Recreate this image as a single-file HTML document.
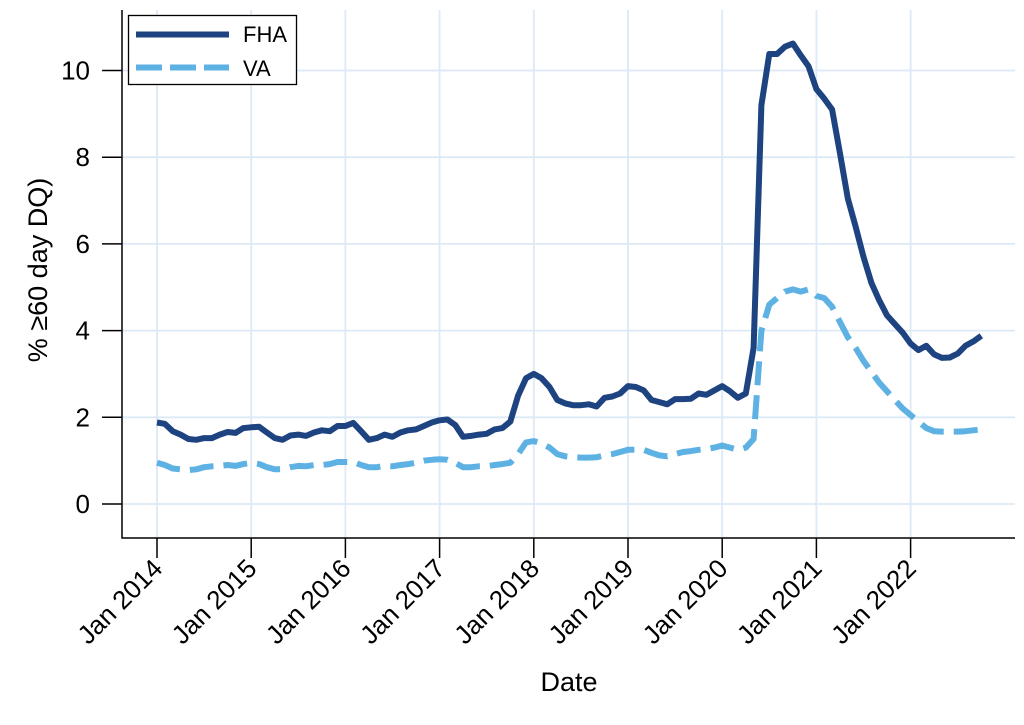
<!DOCTYPE html>
<html><head><meta charset="utf-8"><style>
body{margin:0;background:#fff;}
svg text{font-family:"Liberation Sans",Arial,sans-serif;fill:#000;}
</style></head><body>
<svg id="s" width="1024" height="720" xmlns="http://www.w3.org/2000/svg">
<g id="grid" stroke="#dde9f6" stroke-width="1.8"></g>
<g id="axes" stroke="#000" stroke-width="1.5" fill="none">
<line x1="122" y1="10" x2="122" y2="538.5"/>
<line x1="121.5" y1="538" x2="1015" y2="538"/>
</g>
<g id="ticks" stroke="#000" stroke-width="1.5"></g>
<g id="lbl"></g>
<polyline id="va" fill="none" stroke="#5db2e3" stroke-width="6" stroke-dasharray="24,10" stroke-linejoin="round"/>
<polyline id="fha" fill="none" stroke="#1e4381" stroke-width="6" stroke-linejoin="round"/>
<rect x="128.5" y="15.5" width="168" height="69" fill="#fff" stroke="#000" stroke-width="1.3"/>
<line x1="136" y1="34.5" x2="229" y2="34.5" stroke="#1e4381" stroke-width="6"/>
<line x1="136" y1="67.5" x2="229" y2="67.5" stroke="#5db2e3" stroke-width="6" stroke-dasharray="26,8"/>
<text x="243" y="42" font-size="22">FHA</text>
<text x="243" y="76" font-size="22">VA</text>
<text x="569" y="691" font-size="27" text-anchor="middle">Date</text>
<text transform="translate(47,270) rotate(-90)" font-size="27" text-anchor="middle">% ≥60 day DQ)</text>
</svg>
<script>
var ns="http://www.w3.org/2000/svg";
function el(p,t,a,txt){var e=document.createElementNS(ns,t);for(var k in a)e.setAttribute(k,a[k]);if(txt)e.textContent=txt;document.getElementById(p).appendChild(e);}
function Y(v){return 504-43.35*v;}
function X(i){return 157+i*7.85;}
for(var v=0;v<=10;v+=2){el('grid','line',{x1:122,x2:1015,y1:Y(v),y2:Y(v)});el('ticks','line',{x1:102,x2:122,y1:Y(v),y2:Y(v)});el('lbl','text',{x:90,y:Y(v)+9,'text-anchor':'end','font-size':26},String(v));}
for(var k=0;k<9;k++){var x=X(k*12);el('grid','line',{x1:x,x2:x,y1:10,y2:538});el('ticks','line',{x1:x,x2:x,y1:538,y2:558});el('lbl','text',{'text-anchor':'end',transform:'translate('+(x+7)+',570) rotate(-45)','font-size':26},'Jan '+(2014+k));}
var fha=[1.88,1.85,1.68,1.6,1.5,1.48,1.52,1.52,1.6,1.66,1.64,1.75,
1.77,1.78,1.65,1.52,1.48,1.58,1.6,1.57,1.65,1.7,1.68,1.8,
1.8,1.87,1.68,1.48,1.52,1.6,1.55,1.65,1.7,1.72,1.8,1.88,
1.93,1.95,1.82,1.55,1.57,1.6,1.62,1.72,1.75,1.9,2.5,2.9,
3.0,2.9,2.7,2.4,2.32,2.28,2.28,2.3,2.25,2.45,2.48,2.55,
2.72,2.7,2.62,2.4,2.35,2.3,2.42,2.42,2.43,2.55,2.52,2.62,
2.72,2.6,2.45,2.55,3.6,9.2,10.38,10.38,10.55,10.62,10.35,10.1,
9.57,9.35,9.1,8.1,7.05,6.4,5.7,5.1,4.7,4.35,4.15,3.95,
3.7,3.55,3.65,3.45,3.37,3.38,3.47,3.65,3.75,3.88];
var va=[0.95,0.9,0.82,0.8,0.78,0.8,0.85,0.87,0.88,0.9,0.88,0.92,
0.95,0.92,0.85,0.8,0.8,0.85,0.88,0.87,0.9,0.9,0.92,0.97,
0.97,0.97,0.9,0.85,0.85,0.88,0.87,0.9,0.92,0.95,1.0,1.02,
1.03,1.02,0.95,0.85,0.85,0.87,0.87,0.9,0.92,0.95,1.15,1.42,
1.45,1.4,1.3,1.15,1.1,1.08,1.07,1.07,1.08,1.12,1.15,1.2,
1.25,1.25,1.25,1.18,1.12,1.1,1.15,1.2,1.22,1.25,1.27,1.3,
1.35,1.3,1.25,1.3,1.5,4.0,4.6,4.75,4.9,4.95,4.9,4.95,
4.8,4.75,4.55,4.2,3.85,3.6,3.3,3.05,2.8,2.6,2.4,2.2,
2.05,1.9,1.75,1.68,1.67,1.67,1.67,1.68,1.7,1.72];
function pts(a){return a.map(function(v,i){return X(i).toFixed(1)+','+Y(v).toFixed(1);}).join(' ');}
document.getElementById('fha').setAttribute('points',pts(fha));
document.getElementById('va').setAttribute('points',pts(va));
</script>
</body></html>
